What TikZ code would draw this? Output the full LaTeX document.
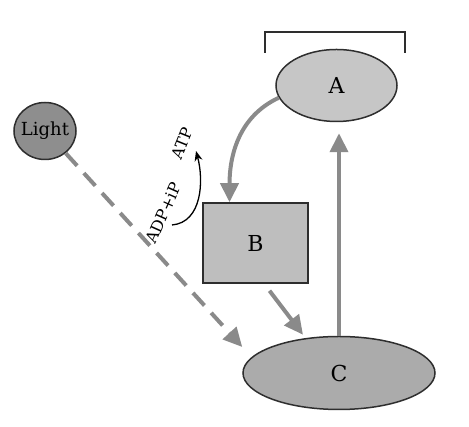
\documentclass[tikz,border=0pt]{standalone}
\usepackage{fontspec}
\setmainfont{DejaVu Serif}
\usepackage{tikz}
\usetikzlibrary{shapes.geometric,arrows.meta}

\definecolor{arrowgray}{HTML}{8A8A8A}
\definecolor{fillA}{HTML}{C6C6C6}
\definecolor{fillB}{HTML}{BEBEBE}
\definecolor{fillC}{HTML}{ABABAB}
\definecolor{fillLight}{HTML}{8E8E8E}
\definecolor{edge}{HTML}{2E2E2E}

\tikzset{
  partnode/.style={draw=edge, line width=1.5pt, inner sep=0pt, font=\fontsize{22}{26}\selectfont},
  grayarrow/.style={draw=arrowgray, line width=4pt, -{Triangle[width=18pt,length=19pt]}},
  smalllabel/.style={inner sep=0pt, font=\fontsize{16}{19}\selectfont}
}

\begin{document}
\begin{tikzpicture}[x=1pt,y=1pt]
        \useasboundingbox (0,0) rectangle (469,427);

        %Bracket
        \draw [edge, line width=1.6pt] (265,374) -- (265,395) -- (405,395) -- (405,374);

        %Parts
        \node [partnode, ellipse, fill=fillA, minimum width=121pt, minimum height=72pt] (A) at (336.5,341.5) {A};
        \node [partnode, rectangle, fill=fillB, minimum width=105pt, minimum height=80pt] (B) at (255.5,184) {B};
        \node [partnode, ellipse, fill=fillC, minimum width=192pt, minimum height=73pt] (C) at (339,54) {C};
        \node [partnode, ellipse, fill=fillLight, minimum width=62pt, minimum height=57pt, inner xsep=-5pt, font=\fontsize{18}{21}\selectfont] (Light) at (45,296) {Light};

        %Gray arrows
        \draw [grayarrow] (A.192) to[out=205,in=90] ([xshift=-26pt]B.north);
        \draw [grayarrow] (C.north) -- ([xshift=2.5pt,yshift=-11pt]A.south);
        \draw [grayarrow] ([xshift=14pt,yshift=-7pt]B.south) -- ([xshift=-36pt,yshift=1pt]C.north);
        \draw [grayarrow, dash pattern=on 17pt off 10pt] (Light.-47) -- ([yshift=26pt]C.west);

        %ADP to ATP
        \coordinate (adpend) at (172,202);
        \coordinate (atpend) at (196,276);
        \draw [black, line width=1.3pt, -{Stealth[length=10pt,width=8pt]}] (adpend) to[out=5,in=-75] (atpend);
        \node [smalllabel, rotate=66] (adp) at (163.5,214) {ADP+iP};
        \node [smalllabel, rotate=68] (atp) at (182,284) {ATP};

\end{tikzpicture}
\end{document}
